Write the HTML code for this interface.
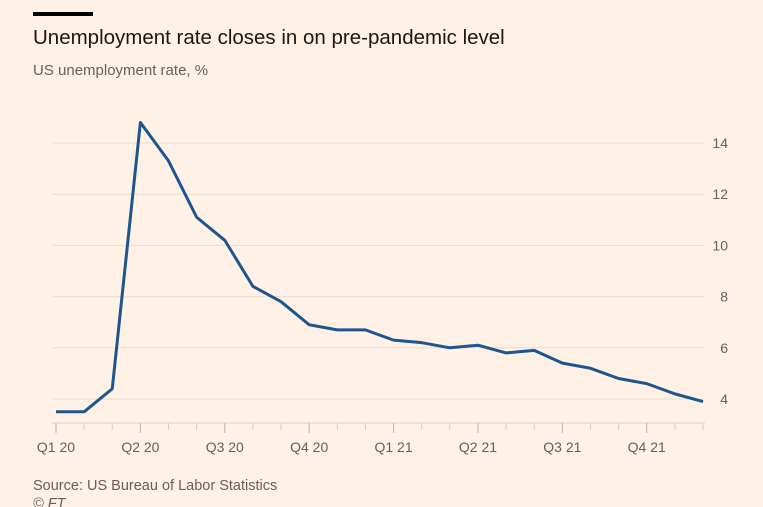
<!DOCTYPE html>
<html><head><meta charset="utf-8"><style>
body{margin:0;background:#fff1e5;font-family:"Liberation Sans",sans-serif;}
#c{position:relative;width:763px;height:507px;overflow:hidden;background:#fff1e5}
</style></head><body>
<div id="c">
<div style="position:absolute;left:33px;top:12px;width:60px;height:4px;background:#000"></div>
<div style="position:absolute;left:33px;top:26px;font-size:20.5px;color:#1a1817">Unemployment rate closes in on pre-pandemic level</div>
<div style="position:absolute;left:33px;top:62px;font-size:15px;color:#66605c">US unemployment rate, %</div>
<svg id="s" width="763" height="507" style="position:absolute;left:0;top:0"></svg>
<div style="position:absolute;left:33px;top:478px;font-size:14.5px;color:#66605c">Source: US Bureau of Labor Statistics</div>
<div style="position:absolute;left:33px;top:496px;font-size:14.5px;color:#66605c;font-style:italic">© FT</div>
</div>
<script>
const months=["Jan 20","Feb 20","Mar 20","Apr 20","May 20","Jun 20","Jul 20","Aug 20","Sep 20","Oct 20","Nov 20","Dec 20","Jan 21","Feb 21","Mar 21","Apr 21","May 21","Jun 21","Jul 21","Aug 21","Sep 21","Oct 21","Nov 21","Dec 21"];
const rates=[3.5,3.5,4.4,14.8,13.3,11.1,10.2,8.4,7.8,6.9,6.7,6.7,6.3,6.2,6.0,6.1,5.8,5.9,5.4,5.2,4.8,4.6,4.2,3.9];
const yTicks=[4,6,8,10,12,14];
const qLabels=["Q1 20","Q2 20","Q3 20","Q4 20","Q1 21","Q2 21","Q3 21","Q4 21"];
const NS="http://www.w3.org/2000/svg",s=document.getElementById('s');
const x=i=>56+i*(703-56)/(months.length-1);
const y=v=>399-(v-4)*25.6;
function mk(t,a,p){const e=document.createElementNS(NS,t);for(const k in a)e.setAttribute(k,a[k]);(p||s).appendChild(e);return e;}
yTicks.forEach(v=>{
 const g=mk('line',{x1:52,x2:705,y1:y(v),y2:y(v),stroke:'#e9ddd2','stroke-width':1});
 
 
 const t=mk('text',{x:728,y:y(v)+5,'text-anchor':'end','font-size':14,fill:'#66605c','font-family':'Liberation Sans, sans-serif'});
 t.textContent=v;
 
 
});
const ax=mk('line',{x1:52,x2:705,y1:423,y2:423,stroke:'#ddd1c6','stroke-width':1});


months.forEach((m,i)=>{
 const q=i%3===0;
 const tk=mk('line',{x1:x(i),x2:x(i),y1:423,y2:q?433:430,stroke:q?'#bdb2a8':'#d8ccc1','stroke-width':1});
 
 
 if(q){
  const t=mk('text',{x:x(i),y:452,'text-anchor':'middle','font-size':14,fill:'#66605c','font-family':'Liberation Sans, sans-serif'});
  t.textContent=qLabels[i/3];
  
  
 }
});
const p=mk('polyline',{points:rates.map((v,i)=>x(i)+','+y(v)).join(' '),fill:'none',stroke:'#1e558c','stroke-width':3,'stroke-linejoin':'round'});


</script>
</body></html>
